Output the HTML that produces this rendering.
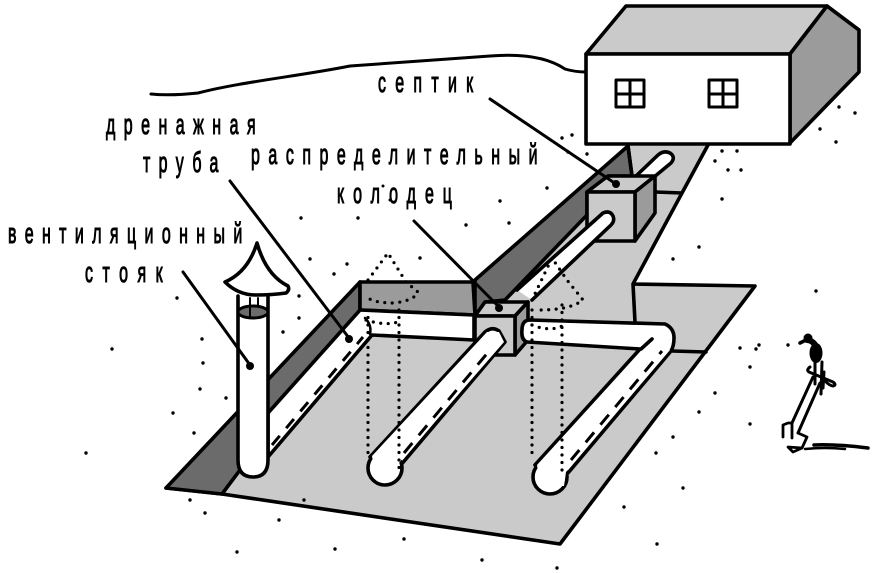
<!DOCTYPE html>
<html><head><meta charset="utf-8"><style>
html,body{margin:0;padding:0;background:#fff;width:873px;height:573px;overflow:hidden}
svg{display:block}
text{font-family:"Liberation Sans",sans-serif;font-size:29px;font-weight:400;fill:#000;stroke:#000;stroke-width:1.1px}
</style></head><body>
<svg width="873" height="573" viewBox="0 0 873 573" xmlns="http://www.w3.org/2000/svg">
<g stroke="#000" stroke-width="3.6" stroke-linejoin="round" stroke-linecap="round">
<!-- ground -->
<polygon points="222,493 360,310 475,312 628,146 708,145 682,193 633,284 755,286 560,544" fill="#cacaca" stroke="none"/>
<path d="M708,145 L682,193 L633,284 L635,322 M633,284 L755,286 L560,544 L222,494 L166,488 M655,192 L682,193 M672,351 L706,352" fill="none"/>
<!-- walls -->
<polygon points="166,488 360,282 360,310 222,494" fill="#6b6b6b"/>
<polygon points="360,282 473,282 475,315 360,310" fill="#9b9b9b"/>
<polygon points="475,280 628,146 632,176 608,176 587,192 587,215 505,300 485,302 475,316" fill="#6b6b6b"/>
<line x1="628" y1="146" x2="632" y2="176"/>
<!-- back pipe -->
<polygon points="360,310 474,315 474,340 372,335 268,457 268,413" fill="#fff"/>
<path d="M272,445 L363,337" stroke-width="3" stroke-dasharray="12 10" stroke-linecap="butt" fill="none"/>
<path d="M365,318 Q372,325 370,334" fill="none" stroke-width="2.5"/>
<!-- upper pipe -->
<path d="M635,177 L658,155 Q664,150 670,153 Q676,157 671,163 L648,182" fill="#fff"/>
<!-- box 1 -->
<polygon points="587,192 608,176 655,176 635,192" fill="#cacaca"/>
<polygon points="635,192 655,176 655,213 635,241" fill="#9b9b9b"/>
<rect x="587" y="192" width="48" height="49" fill="#cacaca"/>
<path d="M517,290 L603,213 Q610,210 613,216 Q615,221 611,225 L532,300 Z" fill="#fff" stroke="none"/>
<path d="M517,290 L603,213 Q610,210 613,216 Q615,221 611,225 L532,300" fill="none"/>
<!-- box 2 -->
<polygon points="475,316 485,302 528,302 515,316" fill="#cacaca"/>
<polygon points="515,316 528,302 528,340 515,355" fill="#9b9b9b"/>
<rect x="475" y="316" width="40" height="39" fill="#cacaca"/>
<!-- middle pipe -->
<path d="M370,457 L485,332 Q492,326 499,331 L505,342 L400,466" fill="#fff"/>
<circle cx="385" cy="468" r="17" fill="#fff"/>
<polygon points="372,456 487,332 499,332 504,342 398,464 396,478 376,478" fill="#fff" stroke="none"/>
<path d="M404,453 L490,350" stroke-width="3" stroke-dasharray="13 10" stroke-linecap="butt" fill="none"/>
<!-- right pipe -->
<path d="M535,465 L640,349 L527,342 Q521,340 522,330 Q522,320 530,320 L665,324 Q674,328 674,338 Q674,346 671,351 L568,473" fill="#fff"/>
<circle cx="550" cy="477" r="17" fill="#fff"/>
<polygon points="537,465 652,339 640,347 670,350 566,472 564,486 540,486" fill="#fff" stroke="none"/>
<line x1="641" y1="349" x2="652" y2="339"/>
<path d="M571,460 L662,351" stroke-width="3" stroke-dasharray="13 10" stroke-linecap="butt" fill="none"/>
<!-- stack -->
<path d="M238,296 L238,460 Q238,477 253,477 Q268,477 268,460 L268,296" fill="#fff"/>
<ellipse cx="253" cy="312" rx="15" ry="6" fill="#6b6b6b" stroke-width="3"/>
<line x1="250" y1="298" x2="250" y2="316" stroke-width="2"/>
<line x1="258" y1="298" x2="258" y2="306" stroke-width="2"/>
<path d="M257,243 Q248,272 225,282 Q238,295 256,295 Q272,295 286,293 Q290,290 288,286 Q266,275 257,243 Z" fill="#fff"/>
<!-- house -->
<polygon points="586,54 626,6 827,6 790,54" fill="#cacaca"/>
<polygon points="790,54 827,6 859,30 859,72 790,143" fill="#9b9b9b"/>
<rect x="586" y="54" width="204" height="90" fill="#fff"/>
<g fill="none" stroke-width="3">
<rect x="616" y="80" width="28" height="27"/><path d="M630,80 L630,107 M616,94 L644,94"/>
<rect x="709" y="80" width="28" height="27"/><path d="M723,80 L723,107 M709,94 L737,94"/>
</g>
<!-- horizon -->
<path d="M151,94 Q170,96 198,93 C240,82 300,76 350,66 C400,62 440,60 490,56 Q540,52 565,69 Q575,72 586,72" fill="none" stroke-width="3"/>
<!-- leaders -->
<path d="M490,99 L616,184 M230,181 L349,338 M414,221 L499,307 M183,272 L250,365" fill="none" stroke-width="3"/>
</g>
<g fill="#000">
<circle cx="616" cy="184" r="4"/><circle cx="349" cy="339" r="4"/><circle cx="499" cy="308" r="4"/><circle cx="250" cy="366" r="4"/>
</g>
<!-- dotted cones -->
<g fill="none" stroke="#000" stroke-width="3.2" stroke-linecap="round" stroke-dasharray="0 7.5">
<path d="M368,310 L368,453 M399,310 L399,470"/>
<path d="M368,280 L388,253 L406,282 L418,292 Q415,300 395,303 Q375,303 368,298"/>
<path d="M366,320 Q385,326 398,322"/>
<path d="M532,310 L532,456 M562,305 L562,474"/>
<path d="M532,300 L552,258 L567,280 L583,300 Q570,310 540,310"/>
<path d="M532,325 Q550,332 562,326"/>
</g>
<!-- scatter dots -->
<g fill="#000">
<circle cx="310" cy="259" r="1.7"/><circle cx="347" cy="264" r="1.7"/><circle cx="334" cy="274" r="1.7"/><circle cx="420" cy="258" r="1.7"/><circle cx="299" cy="296" r="1.7"/><circle cx="299" cy="318" r="1.7"/><circle cx="283" cy="332" r="1.7"/><circle cx="177" cy="298" r="1.7"/><circle cx="202" cy="339" r="1.7"/><circle cx="203" cy="363" r="1.7"/><circle cx="200" cy="389" r="1.7"/><circle cx="226" cy="398" r="1.7"/><circle cx="173" cy="413" r="1.7"/><circle cx="194" cy="433" r="1.7"/>
<circle cx="572" cy="135" r="1.7"/><circle cx="562" cy="138" r="1.7"/><circle cx="568" cy="152" r="1.7"/><circle cx="587" cy="154" r="1.7"/><circle cx="547" cy="188" r="1.7"/><circle cx="500" cy="201" r="1.7"/><circle cx="466" cy="225" r="1.7"/><circle cx="509" cy="223" r="1.7"/><circle cx="722" cy="151" r="1.7"/><circle cx="737" cy="151" r="1.7"/><circle cx="715" cy="161" r="1.7"/><circle cx="728" cy="170" r="1.7"/><circle cx="741" cy="170" r="1.7"/><circle cx="722" cy="199" r="1.7"/><circle cx="699" cy="247" r="1.7"/><circle cx="673" cy="259" r="1.7"/><circle cx="740" cy="348" r="1.7"/><circle cx="756" cy="349" r="1.7"/><circle cx="759" cy="345" r="1.7"/><circle cx="788" cy="345" r="1.7"/><circle cx="750" cy="367" r="1.7"/><circle cx="715" cy="393" r="1.7"/><circle cx="750" cy="424" r="1.7"/>
<circle cx="839" cy="107" r="1.7"/><circle cx="855" cy="113" r="1.7"/><circle cx="820" cy="129" r="1.7"/><circle cx="836" cy="142" r="1.7"/><circle cx="383" cy="186" r="1.5"/><circle cx="390" cy="200" r="1.5"/><circle cx="301" cy="218" r="1.7"/><circle cx="358" cy="218" r="1.7"/>
<circle cx="404" cy="539" r="1.7"/><circle cx="482" cy="560" r="1.7"/><circle cx="557" cy="568" r="1.7"/><circle cx="657" cy="544" r="1.7"/><circle cx="624" cy="507" r="1.7"/><circle cx="683" cy="488" r="1.7"/><circle cx="656" cy="453" r="1.7"/><circle cx="673" cy="437" r="1.7"/><circle cx="699" cy="412" r="1.7"/><circle cx="816" cy="291" r="1.7"/>
<circle cx="112" cy="349" r="1.7"/><circle cx="86" cy="453" r="1.7"/><circle cx="205" cy="513" r="1.7"/><circle cx="190" cy="500" r="1.7"/><circle cx="237" cy="552" r="1.7"/><circle cx="335" cy="549" r="1.7"/><circle cx="304" cy="500" r="1.7"/><circle cx="279" cy="520" r="1.7"/>
</g>
<!-- figure -->
<g fill="none" stroke="#000" stroke-linecap="round" stroke-linejoin="round">
<path d="M800,343 L806,340" stroke-width="3.5"/>
<circle cx="808" cy="338" r="4.5" fill="#000" stroke="none"/>
<path d="M807,340 Q812,340 816,346" stroke-width="6"/>
<ellipse cx="816" cy="353" rx="6.5" ry="10" fill="#000" stroke="none"/>
<path d="M810,367 Q806,370 809,372 L833,382 Q837,385 833,386 Q830,386 825,381" stroke-width="3"/>
<path d="M815,360 L815,384 M822,362 L821,394 M824,372 L823,388" stroke-width="3"/>
<path d="M813,377 L792,423 M820,383 L798,433" stroke-width="3"/>
<path d="M783,437 L783,425 L788,423 L792,423 L792,438 M798,433 L807,437 L802,448 L788,447 L793,452 L802,448" stroke-width="2.8"/>
<path d="M814,445 Q835,444 868,448" stroke-width="3.5"/>
<path d="M805,449 Q825,447 845,449" stroke-width="2.5"/>
</g>
<!-- labels -->
<g>
<text transform="translate(106,134) scale(.55,1)" textLength="272" lengthAdjust="spacing">дренажная</text>
<text transform="translate(143,172) scale(.55,1)" textLength="137" lengthAdjust="spacing">труба</text>
<text transform="translate(251,164) scale(.55,1)" textLength="521" lengthAdjust="spacing">распределительный</text>
<text transform="translate(337,203) scale(.55,1)" textLength="209" lengthAdjust="spacing">колодец</text>
<text transform="translate(8,243) scale(.55,1)" textLength="426" lengthAdjust="spacing">вентиляционный</text>
<text transform="translate(85,282) scale(.55,1)" textLength="141" lengthAdjust="spacing">стояк</text>
<text transform="translate(378,92) scale(.55,1)" textLength="173" lengthAdjust="spacing">септик</text>
</g>
</svg>
</body></html>
